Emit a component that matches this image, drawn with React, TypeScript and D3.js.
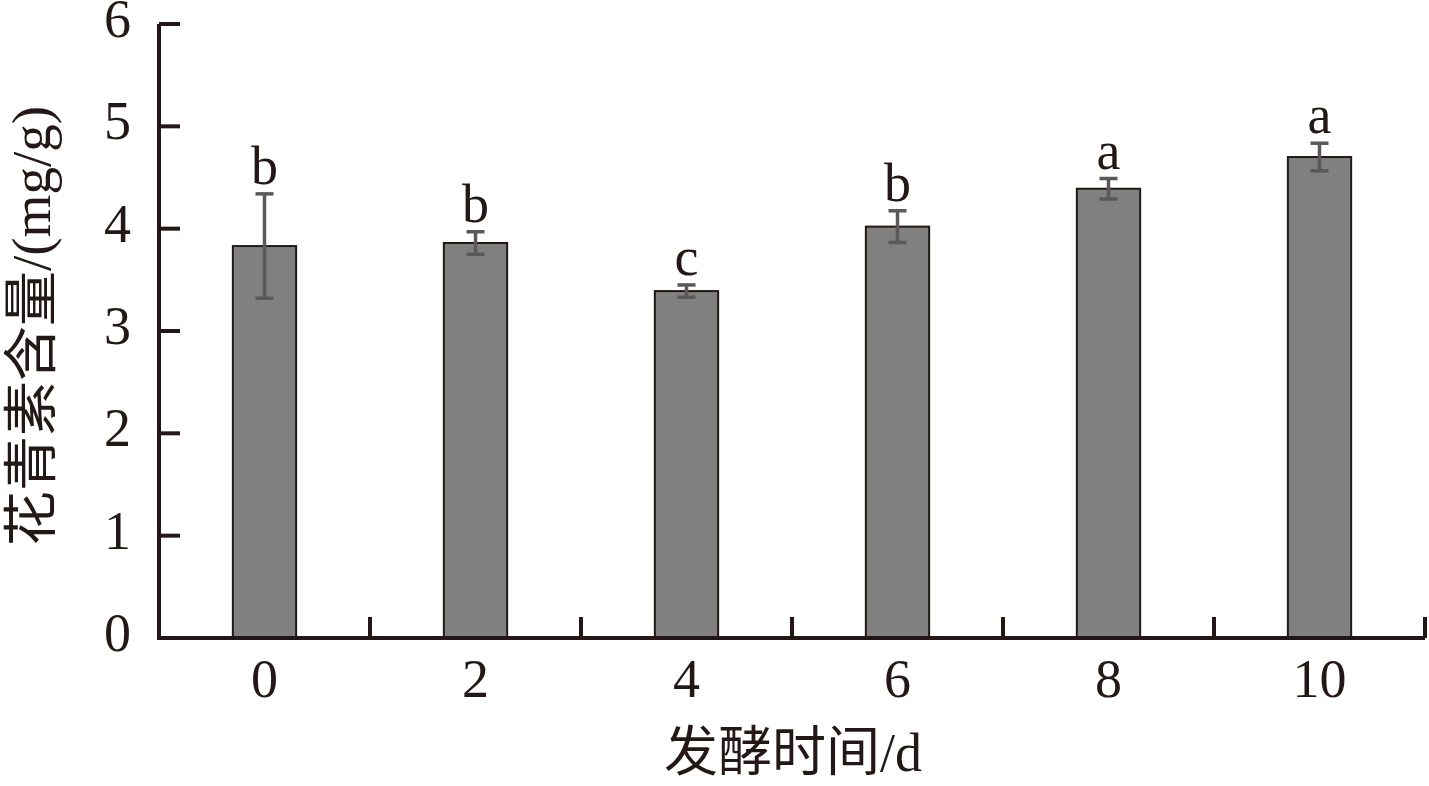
import * as d3 from 'd3';

const categories = ['0', '2', '4', '6', '8', '10'];
const means = [3.83, 3.86, 3.39, 4.02, 4.39, 4.7];
const errors = [0.51, 0.11, 0.06, 0.155, 0.1, 0.135];
const letters = ['b', 'b', 'c', 'b', 'a', 'a'];
const yTicks = [0, 1, 2, 3, 4, 5, 6];

const W = 1429;
const H = 786;
const margin = { top: 24, right: 4, bottom: 148, left: 159 };
const ink = '#231815';
const font = '"Liberation Serif", "Noto Sans CJK SC", serif';

export default function App() {
  const x = d3
    .scaleBand<string>()
    .domain(categories)
    .range([margin.left, W - margin.right])
    .paddingInner(0)
    .paddingOuter(0);
  const y = d3
    .scaleLinear()
    .domain([0, 6])
    .range([H - margin.bottom, margin.top]);

  const barW = x.bandwidth() * 0.3;
  const capW = 18;
  const y0 = y(0);

  // boundaries between categories get the small upward ticks
  const xBounds = categories.map((c) => (x(c) as number) + x.bandwidth());

  return (
    <svg
      width={W}
      height={H}
      style={{ position: 'absolute', left: 0, top: 0, background: '#fff' }}
      fontFamily={font}
    >
      {/* bars */}
      {categories.map((c, i) => {
        const cx = (x(c) as number) + x.bandwidth() / 2;
        return (
          <rect
            key={'bar' + c}
            x={cx - barW / 2}
            y={y(means[i])}
            width={barW}
            height={y0 - y(means[i])}
            fill="#808080"
            stroke={ink}
            strokeWidth={2}
          />
        );
      })}

      {/* error bars */}
      {categories.map((c, i) => {
        const cx = (x(c) as number) + x.bandwidth() / 2;
        const hi = y(means[i] + errors[i]);
        const lo = y(means[i] - errors[i]);
        return (
          <g key={'err' + c} stroke="#595959" strokeWidth={3.5}>
            <line x1={cx} x2={cx} y1={hi} y2={lo} />
            <line x1={cx - capW / 2} x2={cx + capW / 2} y1={hi} y2={hi} />
            <line x1={cx - capW / 2} x2={cx + capW / 2} y1={lo} y2={lo} />
          </g>
        );
      })}

      {/* significance letters */}
      {categories.map((c, i) => {
        const cx = (x(c) as number) + x.bandwidth() / 2;
        return (
          <text
            key={'let' + c}
            x={cx}
            y={y(means[i] + errors[i]) - 10}
            textAnchor="middle"
            fontSize={54}
            fill={ink}
          >
            {letters[i]}
          </text>
        );
      })}

      {/* y axis */}
      <line x1={margin.left} x2={margin.left} y1={y(6)} y2={y0 + 2} stroke={ink} strokeWidth={4} />
      {yTicks.map((t) => (
        <g key={'yt' + t}>
          <line x1={margin.left} x2={margin.left + 21} y1={y(t)} y2={y(t)} stroke={ink} strokeWidth={4} />
          <text
            x={131}
            y={y(t) + 13}
            textAnchor="end"
            fontSize={54}
            fill={ink}
          >
            {t}
          </text>
        </g>
      ))}

      {/* x axis */}
      <line x1={margin.left - 2} x2={W - margin.right} y1={y0} y2={y0} stroke={ink} strokeWidth={4} />
      {xBounds.map((bx, i) => (
        <line key={'xt' + i} x1={bx} x2={bx} y1={y0} y2={y0 - 21} stroke={ink} strokeWidth={4} />
      ))}
      {categories.map((c) => (
        <text
          key={'xl' + c}
          x={(x(c) as number) + x.bandwidth() / 2}
          y={697}
          textAnchor="middle"
          fontSize={54}
          fill={ink}
        >
          {c}
        </text>
      ))}

      {/* axis titles */}
      <text x={793} y={771} textAnchor="middle" fontSize={54} fill={ink}>
        发酵时间/d
      </text>
      <text
        transform={`translate(50, 326) rotate(-90)`}
        textAnchor="middle"
        fontSize={55}
        fill={ink}
      >
        花青素含量/(mg/g)
      </text>
    </svg>
  );
}
